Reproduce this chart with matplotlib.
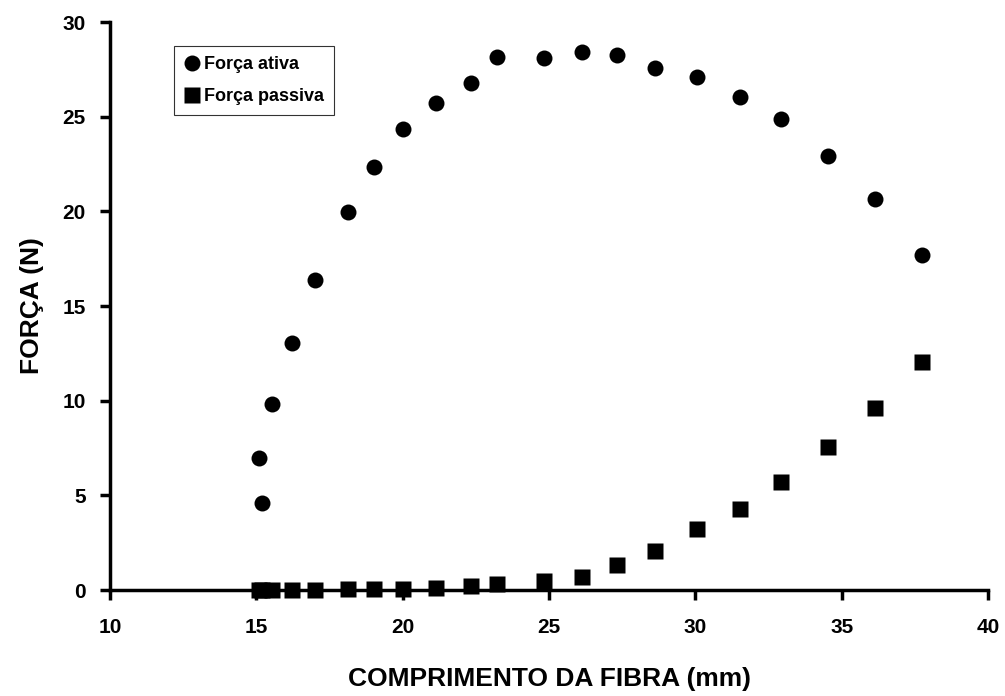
import numpy as np
import matplotlib.pyplot as plt

plt.rcParams['font.family'] = ['Liberation Sans', 'DejaVu Sans']
plt.rcParams['font.weight'] = 'bold'

# comprimento da fibra (mm) e forças medidas (N)
comprimento = [15.10, 15.21, 15.52, 16.21, 17.00, 18.12, 19.03, 20.02, 21.13, 22.32, 23.21,
               24.83, 26.14, 27.32, 28.63, 30.04, 31.53, 32.92, 34.55, 36.14, 37.73]
forca_ativa = [6.96, 4.58, 9.81, 13.06, 16.38, 19.95, 22.35, 24.34, 25.71, 26.80, 28.14,
               28.09, 28.40, 28.26, 27.56, 27.12, 26.06, 24.86, 22.91, 20.65, 17.70]
forca_passiva = [0.00, 0.00, 0.02, 0.02, 0.02, 0.03, 0.03, 0.04, 0.12, 0.23, 0.32,
                 0.49, 0.70, 1.32, 2.06, 3.22, 4.26, 5.72, 7.55, 9.63, 12.03]

xticks = [10, 15, 20, 25, 30, 35, 40]
yticks = [0, 5, 10, 15, 20, 25, 30]

fig = plt.figure(figsize=(10.05, 6.96), dpi=100)
ax = fig.add_axes([110/1005, 1 - 590/696, 878/1005, 568/696])

ax.plot(comprimento, forca_ativa, 'o', color='black', ms=11.5, mec='none',
        label='Força ativa', clip_on=False, zorder=3)
ax.plot(comprimento, forca_passiva, 's', color='black', ms=11, mec='none',
        label='Força passiva', clip_on=False, zorder=3)

ax.set_xlim(10, 40)
ax.set_ylim(0, 30)
ax.set_xticks(xticks)
ax.set_yticks(yticks)

for s in ['top', 'right']:
    ax.spines[s].set_visible(False)
for s in ['left', 'bottom']:
    ax.spines[s].set_linewidth(2.5)
    ax.spines[s].set_capstyle('projecting')

ax.tick_params(axis='both', direction='out', length=7.5, width=2.5, labelsize=15)
ax.tick_params(axis='x', pad=13)
ax.tick_params(axis='y', pad=10)
for lbl in ax.get_xticklabels() + ax.get_yticklabels():
    lbl.set_fontweight('bold')

ax.set_xlabel('COMPRIMENTO DA FIBRA (mm)', fontsize=19, fontweight='bold')
ax.xaxis.set_label_coords(0.5, -0.135)
ax.set_ylabel('FORÇA (N)', fontsize=19, fontweight='bold')
ax.yaxis.set_label_coords(-0.075, 0.5)

leg = ax.legend(loc='upper left', bbox_to_anchor=(174/1005, 1 - 46/696),
                bbox_transform=fig.transFigure, frameon=True, fancybox=False,
                fontsize=13, handlelength=0.9, handletextpad=0.2,
                borderpad=0.55, labelspacing=0.85, borderaxespad=0)
leg.get_frame().set_edgecolor('black')
leg.get_frame().set_linewidth(0.8)
for t in leg.get_texts():
    t.set_fontweight('bold')

plt.savefig('out.png', dpi=100)
